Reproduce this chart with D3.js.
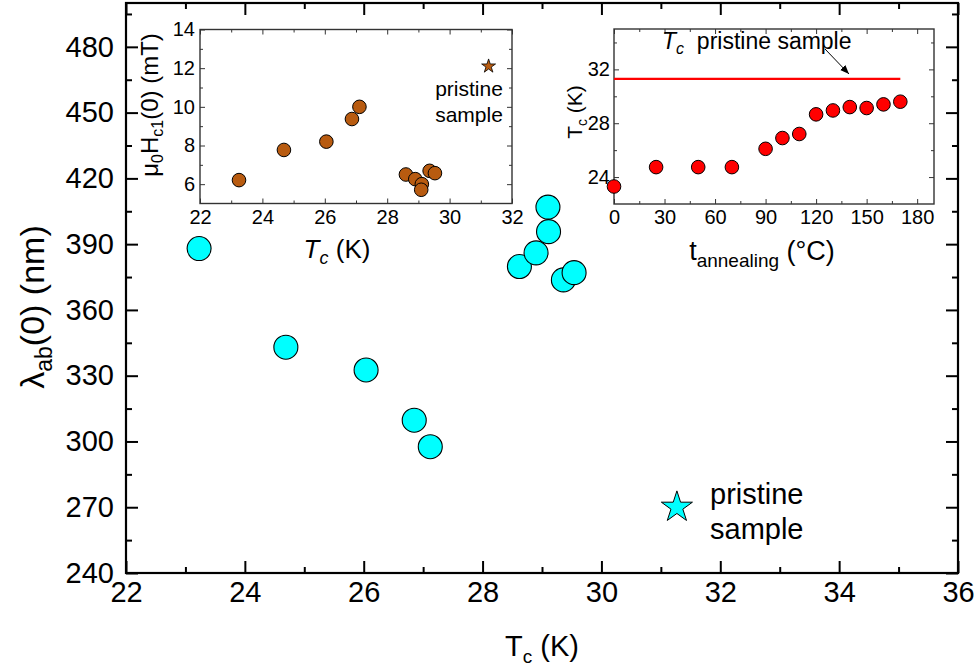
<!DOCTYPE html>
<html>
<head>
<meta charset="utf-8">
<script src="https://cdn.jsdelivr.net/npm/d3@7"></script>
<style>
  html, body { margin: 0; padding: 0; background: #fff; }
  svg { display: block; font-family: "Liberation Sans", Arial, sans-serif; }
</style>
</head>
<body>
<svg id="chart" width="978" height="668"></svg>
<script>
// Penetration depth vs Tc for annealed samples
const mainTc     = [23.23, 24.69, 26.04, 26.85, 27.12, 28.62, 28.90, 29.10, 29.11, 29.36, 29.54];
const mainLambda = [388.0, 343.0, 332.6, 309.7, 297.6, 379.8, 386.0, 406.9, 395.7, 373.7, 377.0];
const pristineTc = 31.27;
const pristineLambda = 270;
const mainXTicks = [22, 24, 26, 28, 30, 32, 34, 36];
const mainYTicks = [240, 270, 300, 330, 360, 390, 420, 450, 480];

// Inset: lower critical field vs Tc
const hc1Tc  = [23.25, 24.69, 26.05, 26.87, 27.11, 28.60, 28.90, 29.11, 29.09, 29.36, 29.53];
const hc1Val = [6.21, 7.77, 8.20, 9.37, 10.00, 6.50, 6.26, 6.00, 5.71, 6.69, 6.57];
const hc1PristineTc = 31.25;
const hc1Pristine = 12.1;
const hc1XTicks = [22, 24, 26, 28, 30, 32];
const hc1YTicks = [6, 8, 10, 12, 14];

// Inset: Tc vs annealing temperature
const annealT  = [0, 25, 50, 70, 90, 100, 110, 120, 130, 140, 150, 160, 170];
const annealTc = [23.3, 24.74, 24.74, 24.74, 26.1, 26.9, 27.2, 28.66, 28.95, 29.2, 29.13, 29.4, 29.6];
const pristineLineTc = 31.3;
const pristineLineSpan = [0, 170];
const annealXTicks = [0, 30, 60, 90, 120, 150, 180];
const annealYTicks = [24, 28, 32];

const svg = d3.select("#chart");

// Boxed frame with inward major/minor ticks on all four sides
function frame(g, x, y, o) {
  const [x0, x1] = x.range();
  const [y0, y1] = y.range(); // y0 bottom, y1 top
  const sides = [
    {mk: () => d3.axisBottom(x), t: `translate(0,${y0})`, maj: o.xMajor, min: o.xMinor, lab: true, pad: o.xPad},
    {mk: () => d3.axisTop(x),    t: `translate(0,${y1})`, maj: o.xMajor, min: o.xMinor, lab: false},
    {mk: () => d3.axisLeft(y),   t: `translate(${x0},0)`, maj: o.yMajor, min: o.yMinor, lab: true, pad: o.yPad},
    {mk: () => d3.axisRight(y),  t: `translate(${x1},0)`, maj: o.yMajor, min: o.yMinor, lab: false}
  ];
  sides.forEach(s => {
    const gm = g.append("g").attr("transform", s.t)
      .call(s.mk().tickValues(s.min).tickSize(-o.minorLen).tickFormat("").tickSizeOuter(0));
    gm.select(".domain").remove();
    gm.selectAll("line").attr("stroke", o.color).attr("stroke-width", o.tickWidth);

    const ax = s.mk().tickValues(s.maj).tickSize(-o.majorLen).tickSizeOuter(0);
    if (s.lab) ax.tickPadding(s.pad); else ax.tickFormat("");
    const ga = g.append("g").attr("transform", s.t).call(ax);
    ga.select(".domain").remove();
    ga.selectAll("line").attr("stroke", o.color).attr("stroke-width", o.tickWidth);
    ga.selectAll("text")
      .attr("font-family", "Liberation Sans, Arial, sans-serif")
      .attr("font-size", o.fontSize).attr("fill", "#000");
  });
  g.append("rect")
    .attr("x", x0).attr("y", y1)
    .attr("width", x1 - x0).attr("height", y0 - y1)
    .attr("fill", "none").attr("stroke", o.color).attr("stroke-width", o.frameWidth);
}

function range(a, b, s) { const r = []; for (let v = a; v <= b + 1e-9; v += s) r.push(+v.toFixed(6)); return r; }

// text with a lowered subscript part: parts = [[text, isSub, italic], ...]
function richText(sel, parts, size, subSize, drop) {
  let down = false;
  parts.forEach(([t, sub, it]) => {
    const ts = sel.append("tspan").text(t);
    if (it) ts.attr("font-style", "italic");
    if (sub && !down) { ts.attr("dy", drop).attr("font-size", subSize); down = true; }
    else if (sub) { ts.attr("font-size", subSize); }
    else if (!sub && down) { ts.attr("dy", -drop); down = false; }
  });
  return sel.attr("font-size", size);
}

// ---------- main plot ----------
const mx = d3.scaleLinear().domain([22, 36]).range([126, 958]);
const my = d3.scaleLinear().domain([240, 500]).range([573, 3]);
const gMain = svg.append("g");
frame(gMain, mx, my, {
  xMajor: mainXTicks, xMinor: range(23, 35, 2),
  yMajor: mainYTicks, yMinor: range(255, 495, 30),
  majorLen: 12, minorLen: 6, tickWidth: 2, frameWidth: 2.2,
  color: "#000", fontSize: 29, xPad: 8, yPad: 12
});

const star = d3.symbol().type(d3.symbolStar);

gMain.append("g").selectAll("circle")
  .data(mainTc.map((t, i) => [t, mainLambda[i]]))
  .join("circle")
  .attr("cx", d => mx(d[0])).attr("cy", d => my(d[1]))
  .attr("r", 12).attr("fill", "#00ffff").attr("stroke", "#000").attr("stroke-width", 1.1);

gMain.append("path")
  .attr("d", star.size(300)())
  .attr("transform", `translate(${mx(pristineTc)},${my(pristineLambda)})`)
  .attr("fill", "#00ffff").attr("stroke", "#000").attr("stroke-width", 1);

gMain.append("text").attr("x", 710).attr("y", 504).attr("font-size", 29).text("pristine");
gMain.append("text").attr("x", 710).attr("y", 539).attr("font-size", 29).text("sample");

richText(gMain.append("text").attr("x", 542).attr("y", 656).attr("text-anchor", "middle"),
  [["T"], ["c", true], [" (K)"]], 29, 19, 7);

richText(gMain.append("text").attr("transform", "translate(44,307) rotate(-90)").attr("text-anchor", "middle"),
  [["λ"], ["ab", true], ["(0) (nm)"]], 34, 23, 8);

// ---------- inset: Hc1 vs Tc ----------
const ax1 = d3.scaleLinear().domain([22, 32]).range([200, 512]);
const ay1 = d3.scaleLinear().domain([5, 14]).range([203.5, 29.5]);
const gIn1 = svg.append("g");
gIn1.append("rect").attr("x", 200).attr("y", 29.5).attr("width", 312).attr("height", 174).attr("fill", "#fff");
frame(gIn1, ax1, ay1, {
  xMajor: hc1XTicks, xMinor: range(23, 31, 2),
  yMajor: hc1YTicks, yMinor: range(7, 13, 2),
  majorLen: 5, minorLen: 3, tickWidth: 1, frameWidth: 1.4,
  color: "#333", fontSize: 20, xPad: 6, yPad: 5
});
gIn1.append("g").selectAll("circle")
  .data(hc1Tc.map((t, i) => [t, hc1Val[i]]))
  .join("circle")
  .attr("cx", d => ax1(d[0])).attr("cy", d => ay1(d[1]))
  .attr("r", 6.8).attr("fill", "#b85b10").attr("stroke", "#000").attr("stroke-width", 1);
gIn1.append("path")
  .attr("d", star.size(60)())
  .attr("transform", `translate(${ax1(hc1PristineTc)},${ay1(hc1Pristine)})`)
  .attr("fill", "#b85b10").attr("stroke", "#000").attr("stroke-width", 0.8);
gIn1.append("text").attr("x", 469).attr("y", 96).attr("text-anchor", "middle").attr("font-size", 21).text("pristine");
gIn1.append("text").attr("x", 469).attr("y", 122).attr("text-anchor", "middle").attr("font-size", 21).text("sample");

richText(gIn1.append("text").attr("x", 337).attr("y", 258).attr("text-anchor", "middle"),
  [["T", false, true], ["c", true, true], ["\u00a0(K)"]], 26, 18, 6);

richText(gIn1.append("text").attr("transform", "translate(158,105) rotate(-90)").attr("text-anchor", "middle"),
  [["μ"], ["0", true], ["H"], ["c1", true], ["(0) (mT)"]], 24, 16, 5);

// ---------- inset: Tc vs annealing temperature ----------
const ax2 = d3.scaleLinear().domain([0, 190]).range([614, 934]);
const ay2 = d3.scaleLinear().domain([22, 35]).range([204, 29]);
const gIn2 = svg.append("g");
gIn2.append("rect").attr("x", 614).attr("y", 29).attr("width", 320).attr("height", 175).attr("fill", "#fff");
frame(gIn2, ax2, ay2, {
  xMajor: annealXTicks, xMinor: range(15, 165, 30),
  yMajor: annealYTicks, yMinor: [26, 30, 34],
  majorLen: 5, minorLen: 3, tickWidth: 1, frameWidth: 1.4,
  color: "#333", fontSize: 20, xPad: 6, yPad: 4
});
gIn2.append("line")
  .attr("x1", ax2(pristineLineSpan[0])).attr("x2", ax2(pristineLineSpan[1]))
  .attr("y1", ay2(pristineLineTc)).attr("y2", ay2(pristineLineTc))
  .attr("stroke", "#ff0000").attr("stroke-width", 2.2);
gIn2.append("g").selectAll("circle")
  .data(annealT.map((t, i) => [t, annealTc[i]]))
  .join("circle")
  .attr("cx", d => ax2(d[0])).attr("cy", d => ay2(d[1]))
  .attr("r", 6.8).attr("fill", "#ff0000").attr("stroke", "#000").attr("stroke-width", 1);

richText(gIn2.append("text").attr("x", 662).attr("y", 49),
  [["T", false, true], ["c", true, true], ["\u00a0\u00a0pristine sample"]], 23, 16, 5);

// arrow pointing at the pristine line
svg.append("defs").append("marker")
  .attr("id", "ah").attr("viewBox", "0 0 10 10").attr("refX", 10).attr("refY", 5)
  .attr("markerWidth", 9).attr("markerHeight", 9).attr("markerUnits", "userSpaceOnUse")
  .attr("orient", "auto")
  .append("path").attr("d", "M0,1 L10,5 L0,9 Z").attr("fill", "#000");
gIn2.append("line").attr("x1", 825).attr("y1", 49).attr("x2", 849).attr("y2", 74)
  .attr("stroke", "#000").attr("stroke-width", 1).attr("marker-end", "url(#ah)");

richText(gIn2.append("text").attr("x", 762).attr("y", 260).attr("text-anchor", "middle"),
  [["t"], ["annealing", true], ["\u00a0(°C)"]], 27, 19, 7);

richText(gIn2.append("text").attr("transform", "translate(582,112) rotate(-90)").attr("text-anchor", "middle"),
  [["T"], ["c", true], [" (K)"]], 21, 14, 5);
</script>
</body>
</html>
